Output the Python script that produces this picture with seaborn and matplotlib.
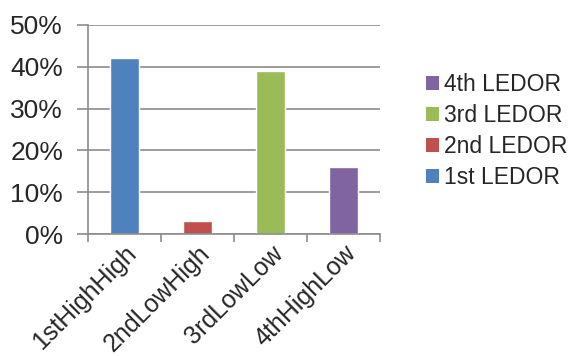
import matplotlib
matplotlib.use("Agg")
import matplotlib.pyplot as plt
import seaborn as sns
import pandas as pd
from matplotlib.ticker import PercentFormatter, FixedLocator
from matplotlib.patches import Patch
from matplotlib.transforms import ScaledTranslation

categories = ["1stHighHigh", "2ndLowHigh", "3rdLowLow", "4thHighLow"]
series = ["1st LEDOR", "2nd LEDOR", "3rd LEDOR", "4th LEDOR"]
values = [0.42, 0.03, 0.39, 0.16]
colors = ["#4F81BD", "#C0504D", "#9BBB59", "#8064A2"]
y_ticks = [0.0, 0.1, 0.2, 0.3, 0.4, 0.5]

sns.set_theme(style="white")
plt.rcParams["font.family"] = ["Liberation Sans", "DejaVu Sans"]

df = pd.DataFrame({"category": categories, "series": series, "value": values})

fig = plt.figure(figsize=(5.73, 3.56), dpi=100)
ax = fig.add_axes([88 / 573, 1 - 234 / 356, 292 / 573, 209 / 356])

sns.barplot(data=df, x="category", y="value", hue="series", hue_order=series,
            palette=colors, dodge=False, width=0.41, saturation=1,
            legend=False, ax=ax)

grid_c = "#8C8C8C"
ax.set_ylim(0, 0.5)
ax.set_xlim(-0.5, len(categories) - 0.5)
ax.yaxis.set_major_locator(FixedLocator(y_ticks))
ax.yaxis.set_major_formatter(PercentFormatter(1.0, decimals=0))
ax.grid(axis="y", color=grid_c, linewidth=1.2)
ax.set_axisbelow(True)
for side in ["top", "right"]:
    ax.spines[side].set_visible(False)
ax.spines["left"].set_color(grid_c)
ax.spines["bottom"].set_color(grid_c)
ax.spines["left"].set_linewidth(1.2)
ax.spines["bottom"].set_linewidth(1.2)

ax.tick_params(axis="y", which="major", left=True, length=8, width=1.2,
               color=grid_c, labelsize=19, pad=10)
# category boundary ticks on the x axis
ax.set_xticks([i - 0.5 for i in range(len(categories) + 1)], minor=False)
ax.set_xticklabels([])
ax.set_xticks(range(len(categories)), minor=True)
labels = ax.set_xticklabels(categories, minor=True, rotation=45, ha="right",
                            rotation_mode="anchor", fontsize=18)
shift = ScaledTranslation(-5 / 100, 0, fig.dpi_scale_trans)
for lab in labels:
    lab.set_transform(lab.get_transform() + shift)
ax.tick_params(axis="x", which="major", bottom=True, length=6, width=1.2,
               color=grid_c)
ax.tick_params(axis="x", which="minor", bottom=False, length=0, pad=5)
ax.set_xlabel("")
ax.set_ylabel("")

handles = [Patch(facecolor=c, edgecolor="none") for c in colors]
leg = fig.legend(handles[::-1], series[::-1], loc="center left",
                 bbox_to_anchor=(405 / 573, 1 - 131 / 356), frameon=False,
                 fontsize=16.5, handlelength=0.6, handleheight=0.6,
                 handletextpad=0.2, labelspacing=0.35)

fig.savefig("out.png", dpi=100)
